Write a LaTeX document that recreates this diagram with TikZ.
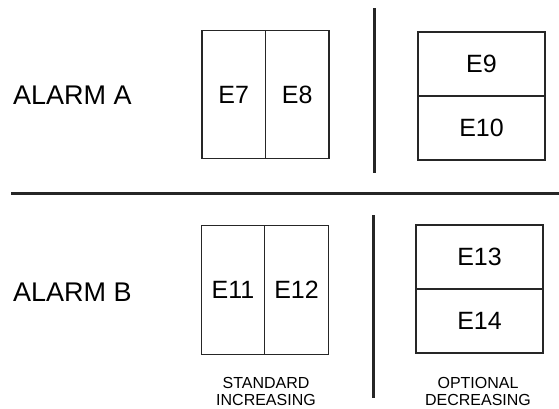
\documentclass[tikz,border=0pt]{standalone}
\usepackage{fontspec}
\setmainfont{Liberation Sans}
\begin{document}
\begin{tikzpicture}[x=1pt,y=-1pt,
  cell/.style={draw=black!85,line width=1.4pt,inner sep=0pt,font=\fontsize{25}{28}\selectfont},
  vcell/.style={cell,minimum width=63.5pt,minimum height=128.5pt},
  hcell/.style={cell,minimum width=127pt,minimum height=64pt},
  alarm/.style={anchor=west,inner sep=0pt,font=\fontsize{27}{30}\selectfont},
  caption/.style={align=center,inner sep=0pt,font=\fontsize{16}{17}\selectfont},
  divider/.style={line width=3pt,black!85}]
\useasboundingbox (0,0) rectangle (559,408);
% top row
\node[alarm] (alarmA) at (13,95) {ALARM A};
\node[vcell] (e7) at (233.75,94.5) {E7};
\node[vcell] (e8) at (297.25,94.5) {E8};
\node[hcell] (e9) at (481.5,64) {E9};
\node[hcell] (e10) at (481.5,128) {E10};
% bottom row
\node[alarm] (alarmB) at (13,292) {ALARM B};
\node[vcell] (e11) at (233,290) {E11};
\node[vcell] (e12) at (296.5,290) {E12};
\node[hcell] (e13) at (479.5,257) {E13};
\node[hcell] (e14) at (479.5,321) {E14};
% captions
\node[caption] (std) at (266,391) {STANDARD\\INCREASING};
\node[caption] (opt) at (478,391) {OPTIONAL\\DECREASING};
% dividers
\draw[divider] (374.5,8) -- (374.5,173);
\draw[divider] (373,215) -- (373,398);
\draw[divider] (11,193) -- (559,193);
\end{tikzpicture}
\end{document}
